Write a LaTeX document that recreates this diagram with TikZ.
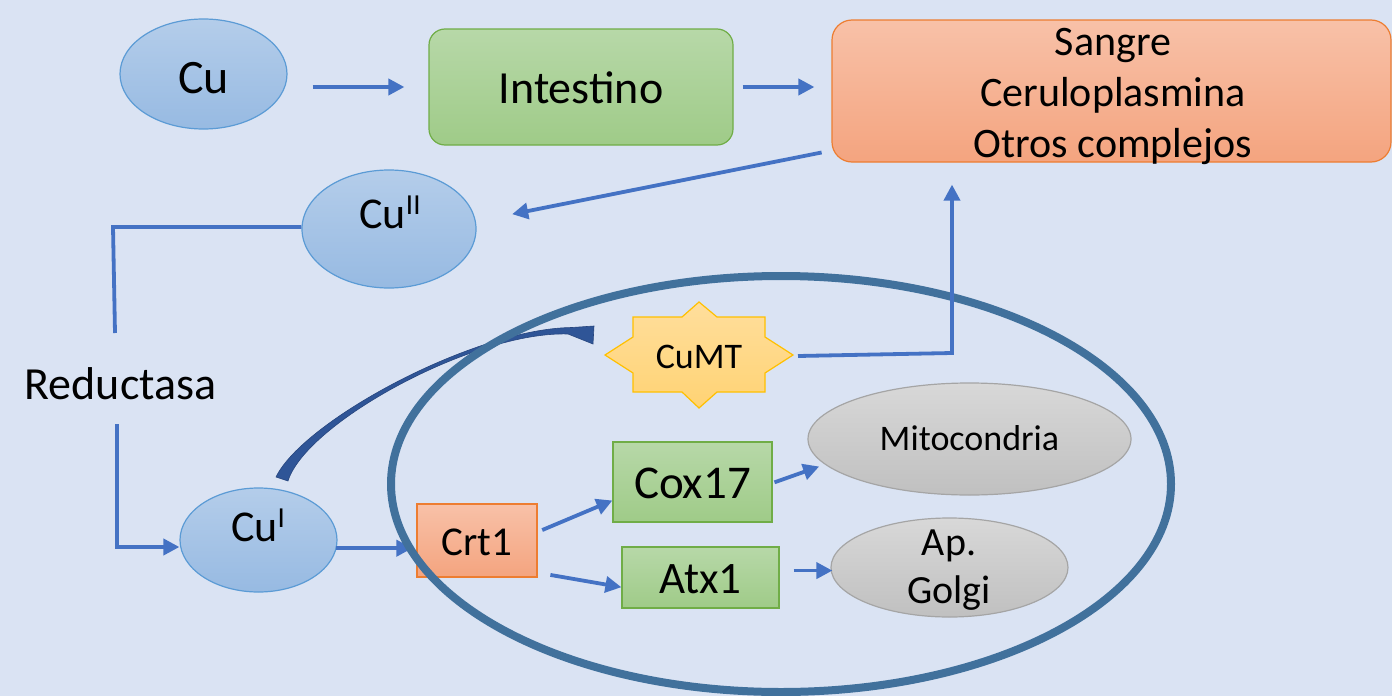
\documentclass[tikz,border=0pt]{standalone}
\usepackage{fontspec}
\setmainfont{Carlito}
\usetikzlibrary{shapes.geometric,arrows.meta,calc}
\definecolor{bg}{HTML}{DAE3F3}
\definecolor{cutop}{HTML}{B4CDEA}
\definecolor{cubot}{HTML}{97BAE2}
\definecolor{cuedge}{HTML}{5B9BD5}
\definecolor{grntop}{HTML}{B7D8A8}
\definecolor{grnbot}{HTML}{9FCB88}
\definecolor{grnedge}{HTML}{70AD47}
\definecolor{orgtop}{HTML}{F8C1A8}
\definecolor{orgbot}{HTML}{F4A47F}
\definecolor{orgedge}{HTML}{ED7D31}
\definecolor{gratop}{HTML}{D8D8D8}
\definecolor{grabot}{HTML}{C0C0C0}
\definecolor{graedge}{HTML}{A5A5A5}
\definecolor{startop}{HTML}{FFDE9C}
\definecolor{starbot}{HTML}{FFD374}
\definecolor{staredge}{HTML}{FFC000}
\definecolor{arrowblue}{HTML}{4472C4}
\definecolor{cellc}{HTML}{41719C}
\definecolor{curvfill}{HTML}{2F5597}
\definecolor{curvedge}{HTML}{27467E}
\tikzset{
  lbl/.style={inner sep=0pt, anchor=base, text=black},
  blueell/.style={ellipse, draw=cuedge, line width=1.2pt, top color=cutop, bottom color=cubot, inner sep=0pt},
  greenbox/.style={rectangle, draw=grnedge, line width=1.2pt, top color=grntop, bottom color=grnbot, inner sep=0pt},
  orangebox/.style={rectangle, draw=orgedge, line width=1.2pt, top color=orgtop, bottom color=orgbot, inner sep=0pt},
  grayell/.style={ellipse, draw=graedge, line width=1.2pt, top color=gratop, bottom color=grabot, inner sep=0pt},
  conn/.style={draw=arrowblue, line width=3.8pt},
  arr/.style={conn, -{Triangle[length=16pt,width=16pt]}},
}
\newcommand{\fs}[1]{\fontsize{#1}{#1}\selectfont}
\begin{document}
\begin{tikzpicture}[x=1pt,y=-1pt]
\useasboundingbox (0,0) rectangle (1392,696);
\fill[bg] (0,0) rectangle (1392,696);

% top row
\node[blueell, minimum width=167pt, minimum height=110pt] (cu) at (203.5,74) {};
\node[lbl, font=\fs{48}] (cut) at (203.5,93) {Cu};
\node[greenbox, rounded corners=16pt, minimum width=304pt, minimum height=116pt] (intest) at (581,87) {};
\node[lbl, font=\fs{46}] (intestt) at (581,103) {Intestino};
\node[orangebox, rounded corners=20pt, minimum width=559pt, minimum height=142pt] (sangre) at (1111.5,91) {};
\node[lbl, font=\fs{42}] (s1) at (1113,55) {Sangre};
\node[lbl, font=\fs{42}] (s2) at (1113,106) {Ceruloplasmina};
\node[lbl, font=\fs{42}] (s3) at (1113,157) {Otros complejos};

\draw[arr, shorten <=25pt, shorten >=24pt] (cu.east |- intest.west) -- (intest.west);
\draw[arr, shorten <=9pt, shorten >=17pt] (intest.east) -- (intest.east -| sangre.west);

% Cu II
\node[blueell, minimum width=174pt, minimum height=118pt] (cu2) at (389,229) {};
\node[lbl, font=\fs{44}] (cu2t) at (390,228) {Cu\raisebox{14pt}{\fs{29}II}};
\draw[arr, shorten <=10pt, shorten >=37pt] (sangre.192) -- (cu2.5);

% Reductasa
\node[lbl, font=\fs{46}] (reduct) at (120.5,399) {Reductasa};
\coordinate (c2) at (113,227);
\coordinate (c3) at (115,333);
\coordinate (c4) at (117,424);
\coordinate (c5) at (117,547);
\draw[conn] (cu2.west |- c2) -- (c2) -- (c3);

% Cu I
\node[blueell, minimum width=157pt, minimum height=104pt] (cu1) at (258.5,540) {};
\node[lbl, font=\fs{44}] (cu1t) at (258,541) {Cu\raisebox{14pt}{\fs{29}I}};
\draw[arr] (c4) -- (c5) -- (c5 -| cu1.west);

% curved arrow Cu I -> CuMT
\path[draw=curvedge, line width=0.6pt, fill=curvfill]
  (276,477) .. controls (303,421) and (474,328.5) .. (572,327.5)
  -- (594,326) -- (593,344) -- (568,334)
  .. controls (474,331) and (306,423) .. (288,481) -- cycle;

% Crt1 and arrow into it
\node[orangebox, minimum width=120pt, minimum height=73pt] (crt1) at (477,540.5) {};
\node[lbl, font=\fs{41}] (crt1t) at (477,555) {Crt1};
\draw[arr, shorten <=-1pt, shorten >=4pt] (cu1.-6) -- (cu1.-6 -| crt1.west);

% cell
\node[draw=cellc, line width=8pt, ellipse, minimum width=780pt, minimum height=416pt, inner sep=0pt] (cell) at (781,484) {};

% CuMT star
\path[draw=staredge, line width=1.2pt, top color=startop, bottom color=starbot]
  (633,317) -- (682,317) -- (699,302) -- (717,317) -- (765,317) -- (765,337)
  -- (793,355) -- (765,373) -- (765,392) -- (717,392) -- (699,408) -- (682,392)
  -- (633,392) -- (633,373) -- (605,355) -- (633,337) -- cycle;
\node[lbl, font=\fs{36}] (cumt) at (699,368) {CuMT};
\coordinate (cumtE) at (798,356);
\coordinate (up) at (952,353);
\draw[arr, shorten >=22pt] (cumtE) -- (up) -- (up |- sangre.south);

% Cox17, Atx1
\node[greenbox, minimum width=159pt, minimum height=80pt] (cox17) at (692.5,482) {};
\node[lbl, font=\fs{47}] (cox17t) at (692.5,498) {Cox17};
\node[greenbox, minimum width=157pt, minimum height=61pt] (atx1) at (700.5,577.5) {};
\node[lbl, font=\fs{45}] (atx1t) at (700.5,593) {Atx1};
\draw[arr, shorten <=5pt] (crt1.8) -- (cox17.193);
\draw[arr, shorten <=13pt] (crt1.-28) -- (atx1.187);

% organelles
\node[grayell, minimum width=323pt, minimum height=112pt] (mito) at (969.5,439) {};
\node[lbl, font=\fs{36}] (mitot) at (969.5,450) {Mitocondria};
\node[grayell, minimum width=237pt, minimum height=99pt] (golgi) at (949.5,567.5) {};
\node[lbl, font=\fs{40}] (golgi1) at (949,555) {Ap.};
\node[lbl, font=\fs{40}] (golgi2) at (949,603) {Golgi};
\draw[arr, shorten <=2pt, shorten >=6pt] (cox17.east |- 0,483) -- (mito.190);
\draw[arr, shorten <=14pt, shorten >=-2pt] (atx1.5) -- (atx1.5 -| golgi.west);
\end{tikzpicture}
\end{document}
